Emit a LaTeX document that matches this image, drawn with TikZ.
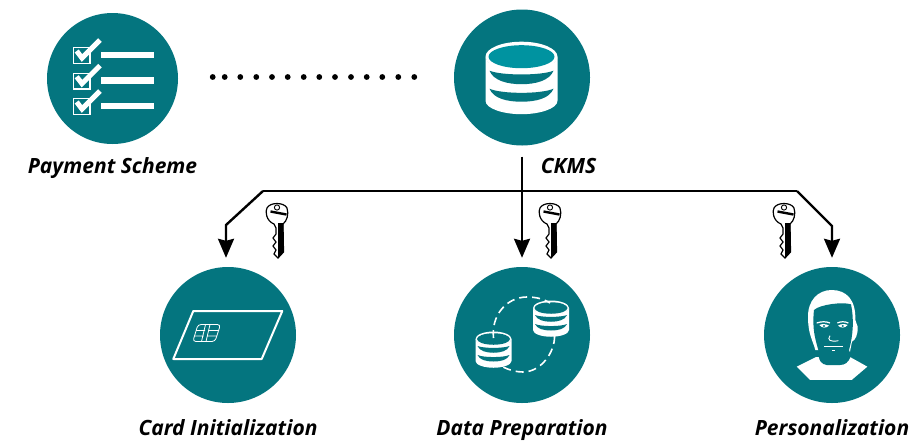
\documentclass[tikz,border=0pt]{standalone}
\usepackage{fontspec}
\setmainfont{Open Sans}
\usetikzlibrary{arrows.meta}
\definecolor{discteal}{HTML}{04757F}
\definecolor{toplight}{HTML}{0093A0}
\tikzset{
  disc/.style={circle,fill=discteal,minimum size=136pt,inner sep=0pt},
  caption/.style={anchor=base,inner sep=0pt,font=\fontsize{21}{24}\selectfont\bfseries\itshape},
  link/.style={line width=2.4pt,line join=miter},
  linkarrow/.style={link,-{Stealth[length=19pt,width=16pt,inset=2pt]}},
  whiteline/.style={draw=white,line width=2pt,line join=round},
  pics/keyicon/.style={code={
    \draw[black,line width=1.2pt,fill=white] (-3,10) .. controls (-11,7) and (-12,-3) .. (-10,-6)
      .. controls (-7,-12) and (7,-12) .. (10,-6) .. controls (12,0) and (10,7) .. (6,10)
      -- (6.5,38) -- (1,44) -- (-3,40) -- (-1,36) -- (-4,32) -- (-1,28) -- (-4,24) -- (-1,20) -- (-1,14) -- cycle;
    \fill[black] (1,9) -- (6.3,9) -- (6.5,38) -- (1,44) -- cycle;
    \draw[black,line width=2.4pt] (-6.5,-2.5) -- (9.5,0.5);
    \draw[black,line width=.9pt] (0,-6.5) circle (2.6);
  }},
  pics/dbstack/.style={code={
    \fill[white] (-36,0) arc (180:360:36 and -14) -- (36,44) .. controls (36,52) and (18,57.5) .. (0,57.5)
      .. controls (-18,57.5) and (-36,52) .. (-36,44) -- cycle;
    \fill[white] (0,0) ellipse (36 and 15);
    \fill[#1] (0,0) ellipse (33 and 11.5);
    \fill[discteal] (-32,14) .. controls (-20,19) and (20,19) .. (32,14)
      .. controls (28,24) and (14,27.5) .. (0,27.5) .. controls (-14,27.5) and (-28,24) .. (-32,14) -- cycle;
    \fill[discteal] (-32,32) .. controls (-20,37.5) and (20,37.5) .. (32,32)
      .. controls (28,42) and (14,45) .. (0,45) .. controls (-14,45) and (-28,42) .. (-32,32) -- cycle;
  }}
}

\begin{document}
\begin{tikzpicture}[x=1pt,y=-1pt]
	\useasboundingbox (0,0) rectangle (915,440);

	\node[disc,minimum size=131pt] (scheme) at (112.5,78.5) {};
	\node[disc] (ckms) at (522,77.5) {};
	\node[disc] (card) at (228,335) {};
	\node[disc] (prep) at (522,335) {};
	\node[disc] (person) at (832,335) {};

	\node[caption] (schemetext) at (112.5,173) {Payment Scheme};
	\node[caption] (ckmstext) at (568.5,173) {CKMS};
	\node[caption] (cardtext) at (228,435) {Card Initialization};
	\node[caption] (preptext) at (522,435) {Data Preparation};
	\node[caption] (persontext) at (832,435) {Personalization};

	\foreach \x in {212.7,224.7,240.3,256.3,272,287.7,303.7,319.3,335,351,366.7,382.3,398.3,414.3}
		\fill (\x,77) circle (2.9);

	\coordinate (busleft) at (263,191);
	\coordinate (busright) at (797,191);
	\coordinate (bendleft) at (226,225);
	\coordinate (bendright) at (832,226);
	\draw[link] (busleft) -- (busright);
	\draw[linkarrow,shorten <=11pt,shorten >=9pt] (ckms.south) -- (prep.north);
	\draw[linkarrow,shorten >=9pt] (busleft) -- (bendleft) -- (bendleft|-card.north);
	\draw[linkarrow,shorten >=9pt] (busright) -- (bendright) -- (person.north);

	\pic at (277,214) {keyicon};
	\pic at (550,214) {keyicon};
	\pic at (784,214) {keyicon};

	\foreach \y in {0,25.7,51} {
		\draw[white,line width=1.3pt] (73.2,47.8+\y) rectangle (90,63.3+\y);
		\draw[white,line width=5pt] (76.7,51+\y) -- (82,58+\y) -- (100,40+\y);
		\fill[white] (101.3,51.7+\y) rectangle (154,58+\y);
	}

	\pic at (521.5,56.7) {dbstack=toplight};

	\draw[whiteline] (193.3,311) -- (282.3,311) -- (261.7,359) -- (173.3,359) -- cycle;
	\draw[whiteline,line width=.8pt,rounded corners=3pt] (198,324.5) -- (220.5,324.5) -- (215,341.5) -- (192.8,341.5) -- cycle;
	\draw[white,line width=.8pt] (196,330.5) -- (205,330.5) (194.5,336) -- (203.5,336) (205.5,324.5) -- (201.5,341.5) (210,324.5) -- (206,341.5) (209,330.5) -- (219,330.5) (207,336) -- (217,336);

	\pic[scale=.5] at (493.5,339) {dbstack=discteal};
	\pic[scale=.5] at (551,308) {dbstack=discteal};
	\draw[white,line width=1.6pt,dash pattern=on 8pt off 5pt] (493.5,338) .. controls (491,315) and (507,297) .. (527,297) .. controls (536,297) and (544,299) .. (550,303);
	\draw[white,line width=1.6pt,dash pattern=on 8pt off 5pt] (554.5,336) .. controls (555,352) and (541,372) .. (523,372) .. controls (516,372) and (509,370) .. (503,367);

	\begin{scope}[shift={(790,285)},x=.3333pt,y=-.3333pt]
		\fill[white] (20,245) -- (78,216) -- (180,216) -- (232,245) -- (185,285) -- (60,285) -- cycle;
		\fill[white] (76,195) .. controls (68,165) and (55,150) .. (54,100) .. controls (52,45) and (85,15) .. (125,15)
			.. controls (170,15) and (198,45) .. (196,105) -- (203,125) .. controls (204,150) and (196,165) .. (186,170)
			-- (180,200) -- cycle;
		\fill[discteal] (85,195) .. controls (75,160) and (66,130) .. (72,75) .. controls (90,58) and (160,50) .. (183,58)
			.. controls (192,100) and (190,150) .. (177,195) -- (182,215) .. controls (175,232) and (165,240) .. (150,240)
			-- (110,240) .. controls (95,238) and (84,228) .. (85,195) -- cycle;
		\draw[white,line width=1.2pt] (80,114) .. controls (95,109) and (108,109) .. (120,114);
		\draw[white,line width=1.2pt] (142,114) .. controls (152,109) and (165,109) .. (175,114);
		\fill[white] (88,120) .. controls (96,116) and (108,116) .. (117,122) .. controls (108,130) and (96,130) .. (88,120) -- cycle;
		\fill[white] (144,122) .. controls (152,116) and (165,116) .. (173,120) .. controls (165,130) and (152,130) .. (144,122) -- cycle;
		\fill[discteal] (102,123) circle (3.5) (158,123) circle (3.5);
		\draw[white,line width=.9pt] (120,152) .. controls (110,165) and (122,172) .. (145,167);
		\draw[white,line width=.9pt] (103,184) -- (158,184) (126,197) -- (136,197);
	\end{scope}
\end{tikzpicture}
\end{document}
